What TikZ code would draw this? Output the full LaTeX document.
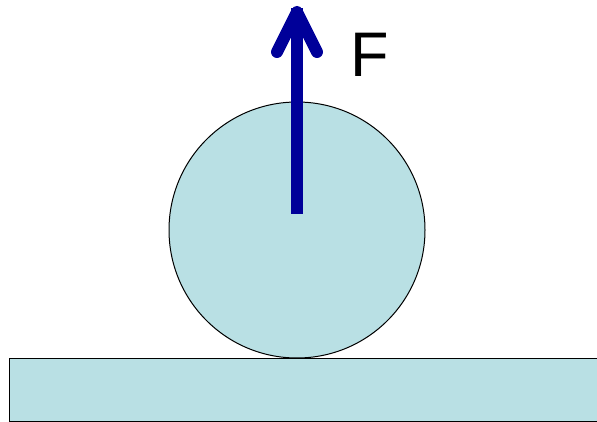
\documentclass[tikz,border=0pt]{standalone}
\usepackage{fontspec}
\setmainfont{Liberation Sans}
\definecolor{ballfill}{RGB}{185,224,228}
\definecolor{arrowblue}{RGB}{0,0,153}
\begin{document}
\begin{tikzpicture}[x=1pt,y=-1pt,
  solid/.style={draw=black,line width=1.3pt,fill=ballfill},
  force/.style={draw=arrowblue,line width=12pt,line cap=round,line join=round}]
\useasboundingbox (0,0) rectangle (597,422);
\node[solid,rectangle,minimum width=600pt,minimum height=63pt,inner sep=0pt,anchor=north west] (floor) at (9,358) {};
\node[solid,circle,minimum size=256pt,inner sep=0pt,line width=1pt] (ball) at (297,230) {};
\coordinate (start) at (297,214);
\coordinate (tip) at (297,12);
\coordinate (legl) at (277,52);
\coordinate (legr) at (317,52);
\draw[force,line cap=butt] (start) -- ([yshift=4pt]tip);
\draw[force] (legl) -- (tip) -- (legr);
\node[anchor=base west,inner sep=0pt,font=\fontsize{63}{63}\selectfont] (F) at (350,77) {F};
\end{tikzpicture}
\end{document}
